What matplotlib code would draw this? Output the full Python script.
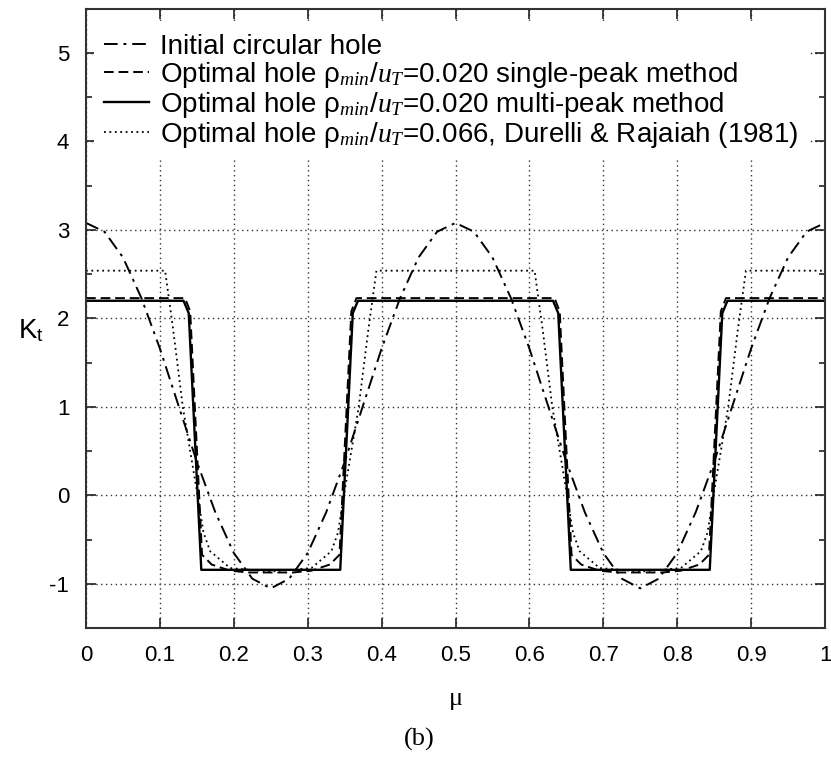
import numpy as np
import matplotlib.pyplot as plt
from matplotlib.ticker import MultipleLocator

plt.rcParams['font.family'] = ['Liberation Sans', 'DejaVu Sans']
plt.rcParams['mathtext.fontset'] = 'custom'
plt.rcParams['mathtext.rm'] = 'Liberation Sans'
plt.rcParams['mathtext.it'] = 'Liberation Serif:italic'

# Initial circular hole
mu_init = [0, 0.025, 0.05, 0.075, 0.1, 0.125, 0.15, 0.175, 0.2, 0.225, 0.25,
           0.275, 0.3, 0.325, 0.35, 0.375, 0.4, 0.425, 0.45, 0.475, 0.5,
           0.525, 0.55, 0.575, 0.6, 0.625, 0.65, 0.675, 0.7, 0.725, 0.75,
           0.775, 0.8, 0.825, 0.85, 0.875, 0.9, 0.925, 0.95, 0.975, 1.0]
kt_init = [3.08, 2.98, 2.69, 2.23, 1.66, 1.02, 0.38, -0.19, -0.65, -0.94, -1.05,
           -0.94, -0.65, -0.19, 0.38, 1.02, 1.66, 2.23, 2.69, 2.98, 3.08,
           2.98, 2.69, 2.23, 1.66, 1.02, 0.38, -0.19, -0.65, -0.94, -1.05,
           -0.94, -0.65, -0.19, 0.38, 1.02, 1.66, 2.23, 2.69, 2.98, 3.08]

# single-peak method
mu_single = [0, 0.134, 0.141, 0.157, 0.17, 0.195, 0.22, 0.25, 0.28, 0.305, 0.33,
             0.343, 0.359, 0.366, 0.634, 0.641, 0.657, 0.67, 0.695, 0.72, 0.75,
             0.78, 0.805, 0.83, 0.843, 0.859, 0.866, 1.0]
kt_single = [2.23, 2.23, 2.08, -0.67, -0.78, -0.85, -0.87, -0.87, -0.87, -0.85, -0.78,
             -0.67, 2.08, 2.23, 2.23, 2.08, -0.67, -0.78, -0.85, -0.87, -0.87,
             -0.87, -0.85, -0.78, -0.67, 2.08, 2.23, 2.23]

# multi-peak method
mu_multi = [0, 0.132, 0.139, 0.156, 0.344, 0.361, 0.368, 0.632, 0.639, 0.656,
            0.844, 0.861, 0.868, 1.0]
kt_multi = [2.2, 2.2, 2.06, -0.84, -0.84, 2.06, 2.2, 2.2, 2.06, -0.84,
            -0.84, 2.06, 2.2, 2.2]

# Durelli & Rajaiah (1981)
mu_durelli = [0, 0.107, 0.118, 0.131, 0.152, 0.159, 0.168, 0.195, 0.25, 0.305,
              0.332, 0.341, 0.348, 0.369, 0.382, 0.393, 0.607, 0.618, 0.631,
              0.652, 0.659, 0.668, 0.695, 0.75, 0.805, 0.832, 0.841, 0.848,
              0.869, 0.882, 0.893, 1.0]
kt_durelli = [2.54, 2.54, 1.87, 1.0, -0.05, -0.42, -0.63, -0.82, -0.86, -0.82,
              -0.63, -0.42, -0.05, 1.0, 1.87, 2.54, 2.54, 1.87, 1.0,
              -0.05, -0.42, -0.63, -0.82, -0.86, -0.82, -0.63, -0.42, -0.05,
              1.0, 1.87, 2.54, 2.54]

x_ticks = [0, 0.1, 0.2, 0.3, 0.4, 0.5, 0.6, 0.7, 0.8, 0.9, 1]
x_labels = ['0', '0.1', '0.2', '0.3', '0.4', '0.5', '0.6', '0.7', '0.8', '0.9', '1']
y_ticks = [-1, 0, 1, 2, 3, 4, 5]
y_labels = ['-1', '0', '1', '2', '3', '4', '5']

fig = plt.figure(figsize=(8.31, 7.58), dpi=100)
ax = fig.add_axes([0.1035, 0.1712, 0.8893, 0.8173])

sub = r'$_{\mathit{min}}$/$\mathit{u}_{\mathit{T}}$'
ax.plot(mu_init, kt_init, color='black', lw=1.4, ls=(0, (7, 3, 1.5, 3)),
        label='Initial circular hole')
ax.plot(mu_single, kt_single, color='black', lw=1.4, ls=(0, (5, 2.5)),
        label='Optimal hole ρ' + sub + '=0.020 single-peak method')
ax.plot(mu_multi, kt_multi, color='black', lw=1.7, ls='-',
        label='Optimal hole ρ' + sub + '=0.020 multi-peak method')
ax.plot(mu_durelli, kt_durelli, color='black', lw=1.3, ls=(0, (1, 2)),
        label='Optimal hole ρ' + sub + '=0.066, Durelli & Rajaiah (1981)')

ax.set_xlim(0, 1)
ax.set_ylim(-1.5, 5.5)
ax.set_xticks(x_ticks)
ax.set_xticklabels(x_labels)
ax.set_yticks(y_ticks)
ax.set_yticklabels(y_labels)
ax.yaxis.set_minor_locator(MultipleLocator(0.5))
ax.tick_params(which='both', direction='in', top=True, right=True, labelsize=16,
               color='#222222', width=1.2)
ax.tick_params(which='major', length=7)
ax.tick_params(which='minor', length=4)
ax.tick_params(axis='x', pad=12)
ax.tick_params(axis='y', pad=12)
ax.grid(True, which='major', color='#333333', ls=(0, (1, 2.5)), lw=1.0)
for s in ax.spines.values():
    s.set_linewidth(1.5)
    s.set_color('#333333')

ax.set_ylabel(r'K$_\mathregular{t}$', fontsize=20, rotation=0, va='center', ha='center')
ax.yaxis.set_label_coords(-0.075, 0.48)
ax.set_xlabel('μ', fontsize=19, family=['Liberation Serif', 'DejaVu Serif'], labelpad=16)
fig.text(0.505, 0.024, '(b)', fontsize=19, family=['Liberation Serif', 'DejaVu Serif'],
         ha='center', va='center')

leg = ax.legend(loc='upper left', bbox_to_anchor=(0.0, 0.9887), fontsize=20,
                frameon=True, fancybox=False, framealpha=1, edgecolor='none',
                handlelength=1.6, handletextpad=0.4, labelspacing=0.0,
                borderaxespad=0.3, borderpad=0.35)

fig.savefig('out.png', dpi=100)
